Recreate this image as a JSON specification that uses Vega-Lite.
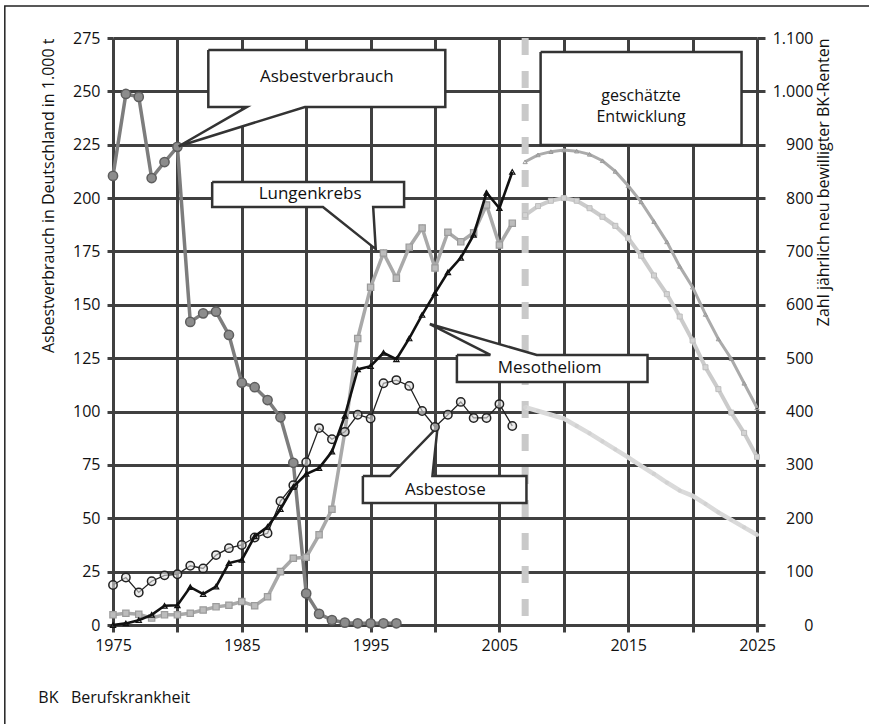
{
  "$schema": "https://vega.github.io/schema/vega-lite/v6.json",
  "width": 644,
  "height": 587,
  "autosize": "none",
  "padding": {"left": 113, "top": 38, "right": 112, "bottom": 99},
  "background": "white",
  "config": {
    "font": "Open Sans",
    "view": {"stroke": null},
    "axis": {"labelFont": "Open Sans", "titleFont": "Open Sans", "labelColor": "#111", "titleColor": "#111", "titleFontWeight": "normal"}
  },
  "datasets": {
    "asbest": [
      {"year": 1975, "t": 210.4}, {"year": 1976, "t": 248.8}, {"year": 1977, "t": 247.4}, {"year": 1978, "t": 209.4},
      {"year": 1979, "t": 216.9}, {"year": 1980, "t": 224}, {"year": 1981, "t": 142}, {"year": 1982, "t": 146},
      {"year": 1983, "t": 146.8}, {"year": 1984, "t": 135.9}, {"year": 1985, "t": 113.5}, {"year": 1986, "t": 111.4},
      {"year": 1987, "t": 105.4}, {"year": 1988, "t": 97.3}, {"year": 1989, "t": 76}, {"year": 1990, "t": 14.8},
      {"year": 1991, "t": 5.2}, {"year": 1992, "t": 2.3}, {"year": 1993, "t": 1.1}, {"year": 1994, "t": 0.8},
      {"year": 1995, "t": 0.8}, {"year": 1996, "t": 0.8}, {"year": 1997, "t": 0.8}
    ],
    "bk": [
      {"year": 1975, "series": "Asbestose", "n": 75}, {"year": 1976, "series": "Asbestose", "n": 89}, {"year": 1977, "series": "Asbestose", "n": 61},
      {"year": 1978, "series": "Asbestose", "n": 82}, {"year": 1979, "series": "Asbestose", "n": 93}, {"year": 1980, "series": "Asbestose", "n": 95},
      {"year": 1981, "series": "Asbestose", "n": 111}, {"year": 1982, "series": "Asbestose", "n": 106}, {"year": 1983, "series": "Asbestose", "n": 131},
      {"year": 1984, "series": "Asbestose", "n": 144}, {"year": 1985, "series": "Asbestose", "n": 150}, {"year": 1986, "series": "Asbestose", "n": 164},
      {"year": 1987, "series": "Asbestose", "n": 172}, {"year": 1988, "series": "Asbestose", "n": 232}, {"year": 1989, "series": "Asbestose", "n": 262},
      {"year": 1990, "series": "Asbestose", "n": 305}, {"year": 1991, "series": "Asbestose", "n": 369}, {"year": 1992, "series": "Asbestose", "n": 348},
      {"year": 1993, "series": "Asbestose", "n": 362}, {"year": 1994, "series": "Asbestose", "n": 394}, {"year": 1995, "series": "Asbestose", "n": 387},
      {"year": 1996, "series": "Asbestose", "n": 453}, {"year": 1997, "series": "Asbestose", "n": 459}, {"year": 1998, "series": "Asbestose", "n": 448},
      {"year": 1999, "series": "Asbestose", "n": 401}, {"year": 2000, "series": "Asbestose", "n": 371}, {"year": 2001, "series": "Asbestose", "n": 394},
      {"year": 2002, "series": "Asbestose", "n": 418}, {"year": 2003, "series": "Asbestose", "n": 388}, {"year": 2004, "series": "Asbestose", "n": 388},
      {"year": 2005, "series": "Asbestose", "n": 414}, {"year": 2006, "series": "Asbestose", "n": 373},
      {"year": 1975, "series": "Mesotheliom", "n": 0}, {"year": 1976, "series": "Mesotheliom", "n": 3}, {"year": 1977, "series": "Mesotheliom", "n": 9},
      {"year": 1978, "series": "Mesotheliom", "n": 19}, {"year": 1979, "series": "Mesotheliom", "n": 36}, {"year": 1980, "series": "Mesotheliom", "n": 37},
      {"year": 1981, "series": "Mesotheliom", "n": 71}, {"year": 1982, "series": "Mesotheliom", "n": 58}, {"year": 1983, "series": "Mesotheliom", "n": 72},
      {"year": 1984, "series": "Mesotheliom", "n": 116}, {"year": 1985, "series": "Mesotheliom", "n": 122}, {"year": 1986, "series": "Mesotheliom", "n": 166},
      {"year": 1987, "series": "Mesotheliom", "n": 184}, {"year": 1988, "series": "Mesotheliom", "n": 217}, {"year": 1989, "series": "Mesotheliom", "n": 259},
      {"year": 1990, "series": "Mesotheliom", "n": 283}, {"year": 1991, "series": "Mesotheliom", "n": 294}, {"year": 1992, "series": "Mesotheliom", "n": 325},
      {"year": 1993, "series": "Mesotheliom", "n": 392}, {"year": 1994, "series": "Mesotheliom", "n": 479}, {"year": 1995, "series": "Mesotheliom", "n": 485},
      {"year": 1996, "series": "Mesotheliom", "n": 510}, {"year": 1997, "series": "Mesotheliom", "n": 498}, {"year": 1998, "series": "Mesotheliom", "n": 537},
      {"year": 1999, "series": "Mesotheliom", "n": 581}, {"year": 2000, "series": "Mesotheliom", "n": 622}, {"year": 2001, "series": "Mesotheliom", "n": 661},
      {"year": 2002, "series": "Mesotheliom", "n": 688}, {"year": 2003, "series": "Mesotheliom", "n": 731}, {"year": 2004, "series": "Mesotheliom", "n": 810},
      {"year": 2005, "series": "Mesotheliom", "n": 781}, {"year": 2006, "series": "Mesotheliom", "n": 849},
      {"year": 1975, "series": "Lungenkrebs", "n": 19}, {"year": 1976, "series": "Lungenkrebs", "n": 22}, {"year": 1977, "series": "Lungenkrebs", "n": 20},
      {"year": 1978, "series": "Lungenkrebs", "n": 13}, {"year": 1979, "series": "Lungenkrebs", "n": 19}, {"year": 1980, "series": "Lungenkrebs", "n": 19},
      {"year": 1981, "series": "Lungenkrebs", "n": 22}, {"year": 1982, "series": "Lungenkrebs", "n": 28}, {"year": 1983, "series": "Lungenkrebs", "n": 34},
      {"year": 1984, "series": "Lungenkrebs", "n": 37}, {"year": 1985, "series": "Lungenkrebs", "n": 44}, {"year": 1986, "series": "Lungenkrebs", "n": 36},
      {"year": 1987, "series": "Lungenkrebs", "n": 53}, {"year": 1988, "series": "Lungenkrebs", "n": 100}, {"year": 1989, "series": "Lungenkrebs", "n": 125},
      {"year": 1990, "series": "Lungenkrebs", "n": 127}, {"year": 1991, "series": "Lungenkrebs", "n": 169}, {"year": 1992, "series": "Lungenkrebs", "n": 217},
      {"year": 1993, "series": "Lungenkrebs", "n": 362}, {"year": 1994, "series": "Lungenkrebs", "n": 537}, {"year": 1995, "series": "Lungenkrebs", "n": 633},
      {"year": 1996, "series": "Lungenkrebs", "n": 697}, {"year": 1997, "series": "Lungenkrebs", "n": 650}, {"year": 1998, "series": "Lungenkrebs", "n": 708},
      {"year": 1999, "series": "Lungenkrebs", "n": 744}, {"year": 2000, "series": "Lungenkrebs", "n": 669}, {"year": 2001, "series": "Lungenkrebs", "n": 736},
      {"year": 2002, "series": "Lungenkrebs", "n": 718}, {"year": 2003, "series": "Lungenkrebs", "n": 735}, {"year": 2004, "series": "Lungenkrebs", "n": 787},
      {"year": 2005, "series": "Lungenkrebs", "n": 712}, {"year": 2006, "series": "Lungenkrebs", "n": 753}
    ],
    "proj": [
      {"year": 2007, "series": "Mesotheliom", "n": 868}, {"year": 2008, "series": "Mesotheliom", "n": 881}, {"year": 2009, "series": "Mesotheliom", "n": 887},
      {"year": 2010, "series": "Mesotheliom", "n": 890}, {"year": 2011, "series": "Mesotheliom", "n": 888}, {"year": 2012, "series": "Mesotheliom", "n": 882},
      {"year": 2013, "series": "Mesotheliom", "n": 870}, {"year": 2014, "series": "Mesotheliom", "n": 850}, {"year": 2015, "series": "Mesotheliom", "n": 823},
      {"year": 2016, "series": "Mesotheliom", "n": 793}, {"year": 2017, "series": "Mesotheliom", "n": 756}, {"year": 2018, "series": "Mesotheliom", "n": 718},
      {"year": 2019, "series": "Mesotheliom", "n": 672}, {"year": 2020, "series": "Mesotheliom", "n": 633}, {"year": 2021, "series": "Mesotheliom", "n": 582},
      {"year": 2022, "series": "Mesotheliom", "n": 536}, {"year": 2023, "series": "Mesotheliom", "n": 499}, {"year": 2024, "series": "Mesotheliom", "n": 453},
      {"year": 2025, "series": "Mesotheliom", "n": 407},
      {"year": 2007, "series": "Lungenkrebs", "n": 768}, {"year": 2008, "series": "Lungenkrebs", "n": 785}, {"year": 2009, "series": "Lungenkrebs", "n": 795},
      {"year": 2010, "series": "Lungenkrebs", "n": 800}, {"year": 2011, "series": "Lungenkrebs", "n": 795}, {"year": 2012, "series": "Lungenkrebs", "n": 781},
      {"year": 2013, "series": "Lungenkrebs", "n": 765}, {"year": 2014, "series": "Lungenkrebs", "n": 748}, {"year": 2015, "series": "Lungenkrebs", "n": 725},
      {"year": 2016, "series": "Lungenkrebs", "n": 692}, {"year": 2017, "series": "Lungenkrebs", "n": 655}, {"year": 2018, "series": "Lungenkrebs", "n": 620},
      {"year": 2019, "series": "Lungenkrebs", "n": 578}, {"year": 2020, "series": "Lungenkrebs", "n": 533}, {"year": 2021, "series": "Lungenkrebs", "n": 483},
      {"year": 2022, "series": "Lungenkrebs", "n": 442}, {"year": 2023, "series": "Lungenkrebs", "n": 398}, {"year": 2024, "series": "Lungenkrebs", "n": 360},
      {"year": 2025, "series": "Lungenkrebs", "n": 315},
      {"year": 2007, "series": "Asbestose", "n": 408}, {"year": 2008, "series": "Asbestose", "n": 401}, {"year": 2009, "series": "Asbestose", "n": 394},
      {"year": 2010, "series": "Asbestose", "n": 387}, {"year": 2011, "series": "Asbestose", "n": 373}, {"year": 2012, "series": "Asbestose", "n": 359},
      {"year": 2013, "series": "Asbestose", "n": 344}, {"year": 2014, "series": "Asbestose", "n": 329}, {"year": 2015, "series": "Asbestose", "n": 314},
      {"year": 2016, "series": "Asbestose", "n": 298}, {"year": 2017, "series": "Asbestose", "n": 283}, {"year": 2018, "series": "Asbestose", "n": 267},
      {"year": 2019, "series": "Asbestose", "n": 252}, {"year": 2020, "series": "Asbestose", "n": 242}, {"year": 2021, "series": "Asbestose", "n": 227},
      {"year": 2022, "series": "Asbestose", "n": 211}, {"year": 2023, "series": "Asbestose", "n": 197}, {"year": 2024, "series": "Asbestose", "n": 183},
      {"year": 2025, "series": "Asbestose", "n": 169}
    ],
    "callouts": [
      {"id": "a", "ord": 1, "year": 1982.4, "t": 269.4}, {"id": "a", "ord": 2, "year": 2000.8, "t": 269.4}, {"id": "a", "ord": 3, "year": 2000.8, "t": 242.7},
      {"id": "a", "ord": 4, "year": 1989.9, "t": 242.7}, {"id": "a", "ord": 5, "year": 1980.1, "t": 224.3}, {"id": "a", "ord": 6, "year": 1985.4, "t": 242.7},
      {"id": "a", "ord": 7, "year": 1982.4, "t": 242.7}, {"id": "a", "ord": 8, "year": 1982.4, "t": 269.4},
      {"id": "l", "ord": 1, "year": 1982.7, "t": 207.5}, {"id": "l", "ord": 2, "year": 1997.6, "t": 207.5}, {"id": "l", "ord": 3, "year": 1997.6, "t": 195.8},
      {"id": "l", "ord": 4, "year": 1995.2, "t": 195.8}, {"id": "l", "ord": 5, "year": 1995.4, "t": 176.1}, {"id": "l", "ord": 6, "year": 1991.3, "t": 195.8},
      {"id": "l", "ord": 7, "year": 1982.7, "t": 195.8}, {"id": "l", "ord": 8, "year": 1982.7, "t": 207.5},
      {"id": "m", "ord": 1, "year": 2001.7, "t": 126.5}, {"id": "m", "ord": 2, "year": 2004.3, "t": 126.5}, {"id": "m", "ord": 3, "year": 1999.6, "t": 141},
      {"id": "m", "ord": 4, "year": 2007.9, "t": 126.5}, {"id": "m", "ord": 5, "year": 2016.5, "t": 126.5}, {"id": "m", "ord": 6, "year": 2016.5, "t": 113.8},
      {"id": "m", "ord": 7, "year": 2001.7, "t": 113.8}, {"id": "m", "ord": 8, "year": 2001.7, "t": 126.5},
      {"id": "s", "ord": 1, "year": 1994.4, "t": 69.8}, {"id": "s", "ord": 2, "year": 1996.5, "t": 69.8}, {"id": "s", "ord": 3, "year": 2000.2, "t": 92.8},
      {"id": "s", "ord": 4, "year": 1999.8, "t": 69.8}, {"id": "s", "ord": 5, "year": 2007.1, "t": 69.8}, {"id": "s", "ord": 6, "year": 2007.1, "t": 57.2},
      {"id": "s", "ord": 7, "year": 1994.4, "t": 57.2}, {"id": "s", "ord": 8, "year": 1994.4, "t": 69.8},
      {"id": "g", "ord": 1, "year": 2008.2, "t": 268.4}, {"id": "g", "ord": 2, "year": 2023.8, "t": 268.4}, {"id": "g", "ord": 3, "year": 2023.8, "t": 224.9},
      {"id": "g", "ord": 4, "year": 2008.2, "t": 224.9}, {"id": "g", "ord": 5, "year": 2008.2, "t": 268.4}
    ],
    "labels": [
      {"label": "Asbestverbrauch", "year": 1991.6, "t": 256.7},
      {"label": "Lungenkrebs", "year": 1990.3, "t": 201.7},
      {"label": "Mesotheliom", "year": 2008.9, "t": 120.4},
      {"label": "Asbestose", "year": 2000.8, "t": 63.2}
    ],
    "twoline": [
      {"label": "geschätzte\nEntwicklung", "year": 2016.0, "t": 247.6}
    ],
    "note": [{"label": "BK\u00a0\u00a0\u00a0Berufskrankheit", "year": 1969.2, "t": -34.2}],
    "frame": [{"year": 1966.6, "year2": 2045, "t": 290, "t2": -80}],
    "cut": [{"year": 2007}]
  },
  "layer": [
    {
      "layer": [
        {
          "data": {"name": "frame"},
          "mark": {"type": "rect", "fill": null, "stroke": "#222", "strokeWidth": 1.5, "clip": false},
          "encoding": {
            "x": {"field": "year", "type": "quantitative", "scale": {"domain": [1975, 2025], "nice": false, "zero": false}},
            "x2": {"field": "year2"},
            "y": {"field": "t", "type": "quantitative", "scale": {"domain": [0, 275], "nice": false}},
            "y2": {"field": "t2"}
          }
        },
        {
          "data": {"name": "asbest"},
          "mark": {"type": "line", "color": "#7d7d7d", "strokeWidth": 3.5,
                   "point": {"shape": "circle", "size": 85, "filled": true, "fill": "#8c8c8c", "stroke": "#5e5e5e", "strokeWidth": 1.5}},
          "encoding": {
            "x": {
              "field": "year", "type": "quantitative",
              "scale": {"domain": [1975, 2025], "nice": false, "zero": false},
              "axis": {
                "title": null, "values": [1975, 1980, 1985, 1990, 1995, 2000, 2005, 2010, 2015, 2020, 2025],
                "labelExpr": "datum.value % 10 == 0 ? '' : datum.value + ''",
                "grid": true, "gridColor": "#404040", "gridWidth": 3, "gridOpacity": 1,
                "domain": false, "ticks": true, "tickColor": "#404040", "tickWidth": 3, "tickSize": 7,
                "labelFontSize": 16, "labelPadding": 5, "labelFlush": false, "labelOverlap": false
              }
            },
            "y": {
              "field": "t", "type": "quantitative",
              "scale": {"domain": [0, 275], "nice": false},
              "axis": {
                "title": "Asbestverbrauch in Deutschland in 1.000 t", "titleFontSize": 16, "titleAnchor": "end", "titlePadding": 16,
                "values": [0, 25, 50, 75, 100, 125, 150, 175, 200, 225, 250, 275],
                "grid": true, "gridColor": "#404040", "gridWidth": 3, "gridOpacity": 1,
                "domain": false, "ticks": true, "tickColor": "#404040", "tickWidth": 3, "tickSize": 6,
                "labelFontSize": 16, "labelPadding": 7, "labelFlush": false, "labelOverlap": false
              }
            }
          }
        },
        {
          "data": {"name": "cut"},
          "mark": {"type": "rule", "color": "#c9c9c9", "strokeWidth": 7, "strokeDash": [17, 16]},
          "encoding": {
            "x": {"field": "year", "type": "quantitative", "scale": {"domain": [1975, 2025], "nice": false, "zero": false}}
          }
        },
        {
          "data": {"name": "callouts"},
          "mark": {"type": "line", "fill": "white", "stroke": "#333", "strokeWidth": 2.5, "strokeJoin": "miter", "interpolate": "linear"},
          "encoding": {
            "x": {"field": "year", "type": "quantitative", "scale": {"domain": [1975, 2025], "nice": false, "zero": false}},
            "y": {"field": "t", "type": "quantitative", "scale": {"domain": [0, 275], "nice": false}},
            "order": {"field": "ord", "type": "quantitative"},
            "detail": {"field": "id"}
          }
        },
        {
          "data": {"name": "labels"},
          "mark": {"type": "text", "font": "Open Sans", "fontSize": 17, "color": "#111", "align": "center", "baseline": "middle"},
          "encoding": {
            "x": {"field": "year", "type": "quantitative", "scale": {"domain": [1975, 2025], "nice": false, "zero": false}},
            "y": {"field": "t", "type": "quantitative", "scale": {"domain": [0, 275], "nice": false}},
            "text": {"field": "label"}
          }
        },
        {
          "data": {"name": "twoline"},
          "mark": {"type": "text", "font": "Open Sans", "fontSize": 16, "color": "#111", "align": "center", "baseline": "middle", "lineBreak": "\n", "lineHeight": 21},
          "encoding": {
            "x": {"field": "year", "type": "quantitative", "scale": {"domain": [1975, 2025], "nice": false, "zero": false}},
            "y": {"field": "t", "type": "quantitative", "scale": {"domain": [0, 275], "nice": false}},
            "text": {"field": "label"}
          }
        },
        {
          "data": {"name": "note"},
          "mark": {"type": "text", "font": "Open Sans", "fontSize": 16, "color": "#111", "align": "left", "baseline": "middle", "clip": false},
          "encoding": {
            "x": {"field": "year", "type": "quantitative", "scale": {"domain": [1975, 2025], "nice": false, "zero": false}},
            "y": {"field": "t", "type": "quantitative", "scale": {"domain": [0, 275], "nice": false}},
            "text": {"field": "label"}
          }
        }
      ]
    },
    {
      "layer": [
        {
          "data": {"name": "proj"},
          "transform": [{"filter": "datum.series == 'Asbestose'"}],
          "mark": {"type": "line", "color": "#dadada", "strokeWidth": 4.5,
                   "point": {"shape": "circle", "size": 18, "filled": true, "fill": "#d2d2d2"}},
          "encoding": {
            "x": {"field": "year", "type": "quantitative", "scale": {"domain": [1975, 2025], "nice": false, "zero": false}},
            "y": {
              "field": "n", "type": "quantitative",
              "scale": {"domain": [0, 1100], "nice": false},
              "axis": {
                "orient": "right", "title": "Zahl jährlich neu bewilligter BK-Renten", "titleFontSize": 16, "titleAngle": 270,
                "titleAnchor": "end", "titlePadding": 18,
                "values": [0, 100, 200, 300, 400, 500, 600, 700, 800, 900, 1000, 1100],
                "labelExpr": "replace(format(datum.value, ','), ',', '.')",
                "grid": false, "domain": false, "ticks": true, "tickColor": "#404040", "tickWidth": 3, "tickSize": 8,
                "labelFontSize": 16, "labelAlign": "right", "labelPadding": 48, "labelFlush": false, "labelOverlap": false
              }
            }
          }
        },
        {
          "data": {"name": "proj"},
          "transform": [{"filter": "datum.series == 'Lungenkrebs'"}],
          "mark": {"type": "line", "color": "#cbcbcb", "strokeWidth": 4,
                   "point": {"shape": "square", "size": 25, "filled": true, "fill": "#d4d4d4", "stroke": "#bdbdbd", "strokeWidth": 1}},
          "encoding": {
            "x": {"field": "year", "type": "quantitative", "scale": {"domain": [1975, 2025], "nice": false, "zero": false}},
            "y": {"field": "n", "type": "quantitative", "scale": {"domain": [0, 1100], "nice": false}}
          }
        },
        {
          "data": {"name": "proj"},
          "transform": [{"filter": "datum.series == 'Mesotheliom'"}],
          "mark": {"type": "line", "color": "#ababab", "strokeWidth": 3,
                   "point": {"shape": "triangle-up", "size": 18, "filled": false, "stroke": "#9a9a9a", "strokeWidth": 1}},
          "encoding": {
            "x": {"field": "year", "type": "quantitative", "scale": {"domain": [1975, 2025], "nice": false, "zero": false}},
            "y": {"field": "n", "type": "quantitative", "scale": {"domain": [0, 1100], "nice": false}}
          }
        },
        {
          "data": {"name": "bk"},
          "transform": [{"filter": "datum.series == 'Lungenkrebs'"}],
          "mark": {"type": "line", "color": "#a9a9a9", "strokeWidth": 3.5,
                   "point": {"shape": "square", "size": 40, "filled": true, "fill": "#bcbcbc", "stroke": "#9b9b9b", "strokeWidth": 1.2}},
          "encoding": {
            "x": {"field": "year", "type": "quantitative", "scale": {"domain": [1975, 2025], "nice": false, "zero": false}},
            "y": {"field": "n", "type": "quantitative", "scale": {"domain": [0, 1100], "nice": false}}
          }
        },
        {
          "data": {"name": "bk"},
          "transform": [{"filter": "datum.series == 'Asbestose'"}],
          "mark": {"type": "line", "color": "#222", "strokeWidth": 1.3,
                   "point": {"shape": "circle", "size": 70, "filled": true, "fill": "#dedede", "fillOpacity": 0.6, "stroke": "#222", "strokeWidth": 1.5}},
          "encoding": {
            "x": {"field": "year", "type": "quantitative", "scale": {"domain": [1975, 2025], "nice": false, "zero": false}},
            "y": {"field": "n", "type": "quantitative", "scale": {"domain": [0, 1100], "nice": false}}
          }
        },
        {
          "data": {"name": "bk"},
          "transform": [{"filter": "datum.series == 'Mesotheliom'"}],
          "mark": {"type": "line", "color": "#111", "strokeWidth": 2.6,
                   "point": {"shape": "triangle-up", "size": 28, "filled": false, "stroke": "#111", "strokeWidth": 1.2}},
          "encoding": {
            "x": {"field": "year", "type": "quantitative", "scale": {"domain": [1975, 2025], "nice": false, "zero": false}},
            "y": {"field": "n", "type": "quantitative", "scale": {"domain": [0, 1100], "nice": false}}
          }
        }
      ]
    }
  ],
  "resolve": {"scale": {"y": "independent"}}
}
